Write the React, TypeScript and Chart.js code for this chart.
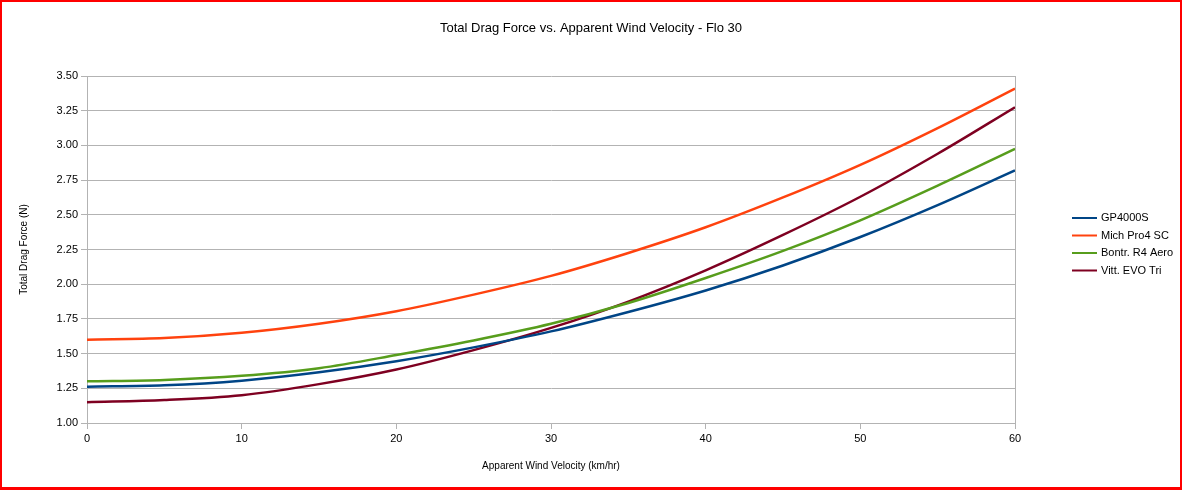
import { useEffect, useRef } from "react";
import { Chart, registerables } from "chart.js";

Chart.register(...registerables);

const velocities = [0, 5, 10, 15, 20, 25, 30, 35, 40, 45, 50, 55, 60];
const seriesNames = ["GP4000S", "Mich Pro4 SC", "Bontr. R4 Aero", "Vitt. EVO Tri"];
const seriesColors = ["#004586", "#ff420e", "#579d1c", "#7e0021"];
const gp4000s = [1.262, 1.272, 1.305, 1.365, 1.445, 1.545, 1.66, 1.8, 1.955, 2.135, 2.34, 2.57, 2.82];
const michPro4 = [1.6, 1.612, 1.65, 1.715, 1.805, 1.925, 2.06, 2.225, 2.41, 2.625, 2.86, 3.125, 3.41];
const bontrR4 = [1.3, 1.31, 1.34, 1.395, 1.49, 1.595, 1.715, 1.865, 2.045, 2.24, 2.46, 2.71, 2.975];
const vittEvo = [1.15, 1.165, 1.2, 1.28, 1.385, 1.525, 1.685, 1.875, 2.1, 2.355, 2.63, 2.94, 3.275];
const seriesValues = [gp4000s, michPro4, bontrR4, vittEvo];

const FONT = "'Liberation Sans', Arial, sans-serif";
const GRID = "#b3b3b3";

// legend drawn by hand so it can sit away from the plot like the original
const sideLegend = {
  id: "sideLegend",
  afterDraw(chart: Chart) {
    const { ctx, chartArea } = chart;
    const x0 = chartArea.right + 57;
    const y0 = chartArea.top + 142;
    ctx.save();
    ctx.font = `11px ${FONT}`;
    ctx.textBaseline = "middle";
    ctx.textAlign = "left";
    chart.data.datasets.forEach((ds, i) => {
      const y = y0 + i * 17.5;
      ctx.strokeStyle = ds.borderColor as string;
      ctx.lineWidth = 2;
      ctx.beginPath();
      ctx.moveTo(x0, y);
      ctx.lineTo(x0 + 25, y);
      ctx.stroke();
      ctx.fillStyle = "#000";
      ctx.fillText(ds.label ?? "", x0 + 29, y);
    });
    ctx.restore();
  },
};

const App = () => {
  const canvasRef = useRef<HTMLCanvasElement>(null);

  useEffect(() => {
    document.body.style.margin = "0";
    if (!canvasRef.current) return;
    const chart = new Chart(canvasRef.current, {
      type: "line",
      data: {
        datasets: seriesNames.map((name, i) => ({
          label: name,
          data: velocities.map((v, j) => ({ x: v, y: seriesValues[i][j] })),
          borderColor: seriesColors[i],
          backgroundColor: seriesColors[i],
          borderWidth: 2.5,
          pointRadius: 0,
          cubicInterpolationMode: "monotone" as const,
          fill: false,
        })),
      },
      options: {
        animation: false,
        responsive: true,
        maintainAspectRatio: false,
        layout: { padding: 0 },
        plugins: {
          legend: { display: false },
          tooltip: { enabled: false },
          title: {
            display: true,
            text: "Total Drag Force vs. Apparent Wind Velocity - Flo 30",
            color: "#000",
            font: { family: FONT, size: 13, weight: "normal" },
            padding: { top: 18.5, bottom: 39.9 },
          },
        },
        scales: {
          x: {
            type: "linear",
            min: 0,
            max: 60,
            ticks: {
              stepSize: 10,
              color: "#000",
              font: { family: FONT, size: 11 },
              padding: 3,
            },
            grid: {
              color: (c) => (c.tick && c.tick.value === 60 ? GRID : "rgba(0,0,0,0)"),
              tickColor: GRID,
              tickLength: 6,
            },
            border: { color: GRID },
            title: {
              display: true,
              text: "Apparent Wind Velocity (km/hr)",
              color: "#000",
              font: { family: FONT, size: 10 },
              padding: { top: 0, bottom: 15 },
            },
            afterFit: (scale) => {
              scale.height = 64;
            },
          },
          y: {
            min: 1,
            max: 3.5,
            ticks: {
              stepSize: 0.25,
              color: "#000",
              font: { family: FONT, size: 11 },
              padding: 3,
              callback: (v) => Number(v).toFixed(2),
            },
            grid: { color: GRID, tickLength: 6 },
            border: { color: GRID },
            title: {
              display: true,
              text: "Total Drag Force (N)",
              color: "#000",
              font: { family: FONT, size: 10 },
              padding: { top: 16, bottom: 0 },
            },
            afterFit: (scale) => {
              scale.width = 85;
            },
          },
          // empty axis that only reserves room for the legend on the right
          legendSpace: {
            type: "linear",
            position: "right",
            display: true,
            grid: { display: false },
            ticks: { display: false },
            border: { display: false },
            afterFit: (scale) => {
              scale.width = 165;
            },
          },
        },
      },
      plugins: [sideLegend],
    });
    return () => chart.destroy();
  }, []);

  return (
    <div
      style={{
        width: 1182,
        height: 490,
        boxSizing: "border-box",
        border: "2px solid #ff0000",
        borderBottomWidth: 3,
        background: "#fff",
      }}
    >
      <div style={{ position: "relative", width: "100%", height: "100%" }}>
        <canvas ref={canvasRef} />
      </div>
    </div>
  );
};

export default App;
